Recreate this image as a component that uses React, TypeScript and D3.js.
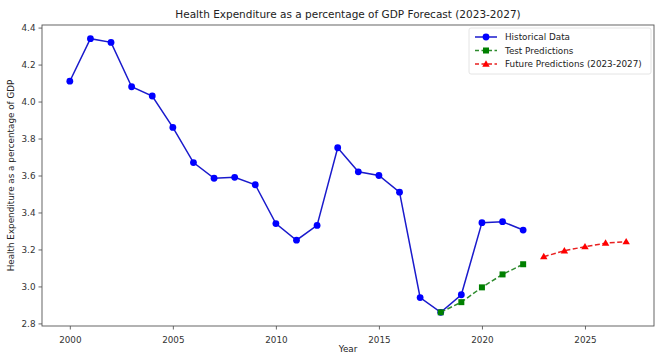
import { useEffect, useRef } from "react";
import * as d3 from "d3";

const histYears = [2000, 2001, 2002, 2003, 2004, 2005, 2006, 2007, 2008, 2009, 2010, 2011, 2012, 2013, 2014, 2015, 2016, 2017, 2018, 2019, 2020, 2021, 2022];
const histValues = [4.11, 4.34, 4.32, 4.08, 4.03, 3.86, 3.67, 3.585, 3.59, 3.55, 3.34, 3.25, 3.33, 3.75, 3.62, 3.60, 3.51, 2.94, 2.86, 2.955, 3.345, 3.35, 3.305];

const testYears = [2018, 2019, 2020, 2021, 2022];
const testValues = [2.86, 2.915, 2.995, 3.065, 3.12];

const futureYears = [2023, 2024, 2025, 2026, 2027];
const futureValues = [3.161, 3.193, 3.215, 3.234, 3.242];

const xTicks = [2000, 2005, 2010, 2015, 2020, 2025];
const yTicks = [2.8, 3.0, 3.2, 3.4, 3.6, 3.8, 4.0, 4.2, 4.4];

const legendLabels = ["Historical Data", "Test Predictions", "Future Predictions (2023-2027)"];

export default function App() {
  const svgRef = useRef<SVGSVGElement | null>(null);

  useEffect(() => {
    const svgEl = svgRef.current;
    if (!svgEl) return;
    const width = 660;
    const height = 354;
    const margin = { top: 25, right: 6, bottom: 28, left: 42 };
    const innerW = width - margin.left - margin.right;
    const innerH = height - margin.top - margin.bottom;
    const font = "DejaVu Sans, sans-serif";

    const svg = d3.select(svgEl);
    svg.selectAll("*").remove();
    svg.attr("width", width).attr("height", height);
    svg.append("rect").attr("width", width).attr("height", height).attr("fill", "#fff");

    const x = d3.scaleLinear().domain([1998.65, 2028.35]).range([0, innerW]);
    const y = d3.scaleLinear().domain([2.786, 4.414]).range([innerH, 0]);

    const g = svg.append("g").attr("transform", `translate(${margin.left},${margin.top})`);

    // axes
    const xAxis = g
      .append("g")
      .attr("transform", `translate(0,${innerH})`)
      .call(d3.axisBottom(x).tickValues(xTicks).tickFormat(d3.format("d")).tickSize(3.5).tickSizeOuter(0));
    const yAxis = g
      .append("g")
      .call(d3.axisLeft(y).tickValues(yTicks).tickFormat(d3.format(".1f")).tickSize(3.5).tickSizeOuter(0));
    [xAxis, yAxis].forEach((ax) => {
      ax.select(".domain").remove();
      ax.selectAll("line").attr("stroke", "#444").attr("stroke-width", 0.8);
      ax.selectAll("text").attr("font-family", font).attr("font-size", 8.8).attr("fill", "#333");
    });
    xAxis.selectAll("text").attr("dy", "1.15em");

    g.append("rect")
      .attr("width", innerW)
      .attr("height", innerH)
      .attr("fill", "none")
      .attr("stroke", "#555")
      .attr("stroke-width", 0.9);

    const line = d3
      .line<[number, number]>()
      .x((d) => x(d[0]))
      .y((d) => y(d[1]));

    const hist = histYears.map((yr, i) => [yr, histValues[i]] as [number, number]);
    const test = testYears.map((yr, i) => [yr, testValues[i]] as [number, number]);
    const future = futureYears.map((yr, i) => [yr, futureValues[i]] as [number, number]);

    g.append("path").datum(hist).attr("d", line).attr("fill", "none").attr("stroke", "#1a1acc").attr("stroke-width", 1.5);
    g.selectAll(".hpt")
      .data(hist)
      .join("circle")
      .attr("cx", (d) => x(d[0]))
      .attr("cy", (d) => y(d[1]))
      .attr("r", 3.4)
      .attr("fill", "#0000ff");

    g.append("path")
      .datum(test)
      .attr("d", line)
      .attr("fill", "none")
      .attr("stroke", "#2e8b2e")
      .attr("stroke-width", 1.5)
      .attr("stroke-dasharray", "5,2.5");
    const sq = 6;
    g.selectAll(".tpt")
      .data(test)
      .join("rect")
      .attr("x", (d) => x(d[0]) - sq / 2)
      .attr("y", (d) => y(d[1]) - sq / 2)
      .attr("width", sq)
      .attr("height", sq)
      .attr("fill", "#008000");

    g.append("path")
      .datum(future)
      .attr("d", line)
      .attr("fill", "none")
      .attr("stroke", "#e82020")
      .attr("stroke-width", 1.5)
      .attr("stroke-dasharray", "5,2.5");
    const tri = d3.symbol().type(d3.symbolTriangle).size(24);
    g.selectAll(".fpt")
      .data(future)
      .join("path")
      .attr("d", tri)
      .attr("transform", (d) => `translate(${x(d[0])},${y(d[1]) + 0.5})`)
      .attr("fill", "#ff0000");

    // title and axis labels
    svg.append("text")
      .attr("x", margin.left + innerW / 2)
      .attr("y", 18)
      .attr("text-anchor", "middle")
      .attr("font-family", font)
      .attr("font-size", 10.5)
      .attr("fill", "#222")
      .text("Health Expenditure as a percentage of GDP Forecast (2023-2027)");
    svg.append("text")
      .attr("x", margin.left + innerW / 2)
      .attr("y", 352)
      .attr("text-anchor", "middle")
      .attr("font-family", font)
      .attr("font-size", 8.8)
      .attr("fill", "#222")
      .text("Year");
    svg.append("text")
      .attr("transform", `translate(14,${margin.top + innerH / 2}) rotate(-90)`)
      .attr("text-anchor", "middle")
      .attr("font-family", font)
      .attr("font-size", 8.8)
      .attr("fill", "#222")
      .text("Health Expenditure as a percentage of GDP");

    // legend
    const lgW = 182;
    const lg = svg.append("g").attr("transform", `translate(${margin.left + innerW - lgW - 3},${margin.top + 3})`);
    lg.append("rect")
      .attr("width", lgW)
      .attr("height", 46)
      .attr("rx", 2)
      .attr("fill", "#fff")
      .attr("stroke", "#ddd")
      .attr("stroke-width", 0.8);
    const colors = ["#1a1acc", "#2e8b2e", "#e82020"];
    legendLabels.forEach((label, i) => {
      const ly = 9 + i * 13.5;
      const row = lg.append("g").attr("transform", `translate(6,${ly})`);
      row.append("line")
        .attr("x1", 0)
        .attr("x2", 22)
        .attr("stroke", colors[i])
        .attr("stroke-width", 1.5)
        .attr("stroke-dasharray", i === 0 ? null : "4,2.5");
      if (i === 0) row.append("circle").attr("cx", 11).attr("r", 3.4).attr("fill", "#0000ff");
      if (i === 1) row.append("rect").attr("x", 8).attr("y", -3).attr("width", 6).attr("height", 6).attr("fill", "#008000");
      if (i === 2) row.append("path").attr("d", tri).attr("transform", "translate(11,0.5)").attr("fill", "#ff0000");
      row.append("text")
        .attr("x", 30)
        .attr("dy", "0.35em")
        .attr("font-family", font)
        .attr("font-size", 8.8)
        .attr("fill", "#222")
        .text(label);
    });
  }, []);

  return <svg ref={svgRef} style={{ position: "absolute", left: 0, top: 0, display: "block" }} />;
}
